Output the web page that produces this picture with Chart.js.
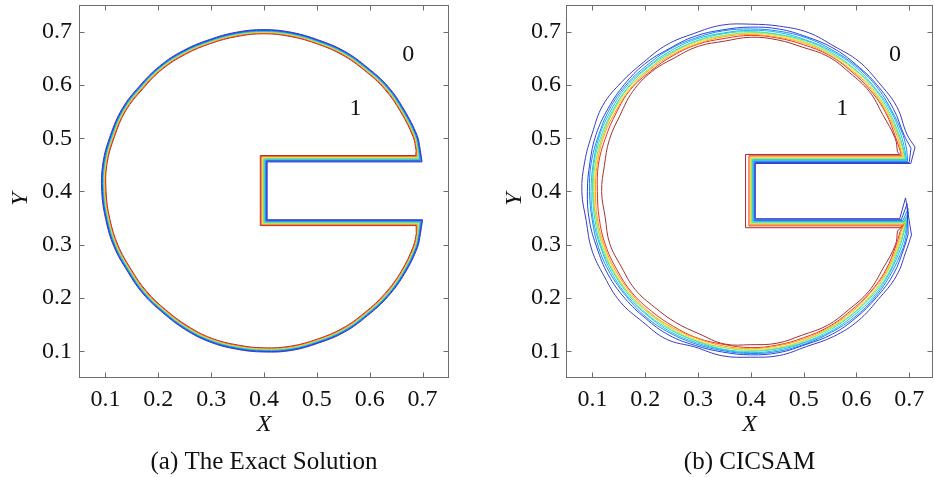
<!DOCTYPE html>
<html>
<head>
<meta charset="utf-8">
<script src="https://cdn.jsdelivr.net/npm/chart.js@4"></script>
<style>
  html, body { margin: 0; padding: 0; background: #ffffff; }
  #wrap { position: relative; width: 934px; height: 477px; overflow: hidden; }
  #wrap canvas { position: absolute; top: 0; }
</style>
</head>
<body>
<div id="wrap">
  <canvas id="exact" width="467" height="477" style="left:0px"></canvas>
  <canvas id="cicsam" width="467" height="477" style="left:467px"></canvas>
</div>
<script>
// ---- axis ticks -------------------------------------------------------
const tickValues = [0.1, 0.2, 0.3, 0.4, 0.5, 0.6, 0.7];
const tickLabels = ['0.1', '0.2', '0.3', '0.4', '0.5', '0.6', '0.7'];

// ---- volume-fraction contour levels (outer = 0.05 ... inner = 0.95) ----
const contourLevels = [0.05, 0.15, 0.25, 0.35, 0.45, 0.55, 0.65, 0.75, 0.85, 0.95];

// ---- slotted disk: contour radius about the disk centre, per polar angle (deg)
const diskCenter = { x: 0.4, y: 0.4 };
const arcAngles = [15, 20, 30, 40, 50, 60, 70, 80, 90, 100, 110, 120, 130, 140, 150, 160, 170, 180,
                   190, 200, 210, 220, 230, 240, 250, 260, 270, 280, 290, 300, 310, 320, 330, 340, 345];

// (a) exact solution
const exactR0 = [0.3060,0.3083,0.3064,0.3065,0.3041,0.3042,0.3025,0.3033,0.3038,0.3035,0.3033,0.3055,0.3073,0.3077,0.3101,0.3092,0.3094,0.3070,0.3040,0.3022,0.2986,0.2988,0.2974,0.2990,0.3005,0.3005,0.3012,0.3028,0.3026,0.3047,0.3044,0.3065,0.3075,0.3088,0.3065];
const exactR1 = [0.3050,0.3073,0.3054,0.3055,0.3031,0.3034,0.3015,0.3023,0.3028,0.3025,0.3023,0.3045,0.3063,0.3067,0.3091,0.3082,0.3084,0.3060,0.3030,0.3012,0.2979,0.2978,0.2964,0.2980,0.2995,0.2995,0.3002,0.3018,0.3016,0.3037,0.3036,0.3055,0.3065,0.3078,0.3055];
const exactR2 = [0.3042,0.3065,0.3046,0.3047,0.3023,0.3024,0.3007,0.3015,0.3020,0.3017,0.3015,0.3037,0.3055,0.3059,0.3083,0.3074,0.3076,0.3052,0.3022,0.3004,0.2968,0.2970,0.2956,0.2972,0.2987,0.2987,0.2994,0.3010,0.3008,0.3029,0.3026,0.3047,0.3057,0.3070,0.3047];
const exactR3 = [0.3034,0.3057,0.3038,0.3039,0.3015,0.3016,0.2999,0.3007,0.3012,0.3009,0.3007,0.3029,0.3047,0.3051,0.3075,0.3066,0.3068,0.3044,0.3014,0.2996,0.2960,0.2962,0.2948,0.2964,0.2979,0.2979,0.2986,0.3002,0.3000,0.3021,0.3018,0.3039,0.3049,0.3062,0.3039];
const exactR4 = [0.3026,0.3049,0.3030,0.3031,0.3007,0.3008,0.2991,0.2999,0.3004,0.3001,0.2999,0.3021,0.3039,0.3043,0.3067,0.3058,0.3060,0.3036,0.3006,0.2988,0.2952,0.2954,0.2940,0.2956,0.2971,0.2971,0.2978,0.2994,0.2992,0.3013,0.3010,0.3031,0.3041,0.3054,0.3031];
const exactR5 = [0.3018,0.3041,0.3022,0.3023,0.2999,0.3000,0.2983,0.2991,0.2996,0.2993,0.2991,0.3013,0.3031,0.3035,0.3059,0.3050,0.3052,0.3028,0.2998,0.2980,0.2944,0.2946,0.2932,0.2948,0.2963,0.2963,0.2970,0.2986,0.2984,0.3005,0.3002,0.3023,0.3033,0.3046,0.3023];
const exactR6 = [0.3010,0.3033,0.3014,0.3015,0.2991,0.2992,0.2975,0.2983,0.2988,0.2985,0.2983,0.3005,0.3023,0.3027,0.3051,0.3042,0.3044,0.3020,0.2990,0.2972,0.2936,0.2938,0.2924,0.2940,0.2955,0.2955,0.2962,0.2978,0.2976,0.2997,0.2994,0.3015,0.3025,0.3038,0.3015];
const exactR7 = [0.3002,0.3025,0.3006,0.3007,0.2983,0.2984,0.2967,0.2975,0.2980,0.2977,0.2975,0.2997,0.3015,0.3019,0.3043,0.3034,0.3036,0.3012,0.2982,0.2964,0.2928,0.2930,0.2916,0.2932,0.2947,0.2947,0.2954,0.2970,0.2968,0.2989,0.2986,0.3007,0.3017,0.3030,0.3007];
const exactR8 = [0.2992,0.3015,0.2996,0.2997,0.2973,0.2974,0.2957,0.2965,0.2970,0.2967,0.2965,0.2987,0.3005,0.3009,0.3033,0.3024,0.3026,0.3002,0.2972,0.2954,0.2918,0.2920,0.2906,0.2922,0.2937,0.2937,0.2944,0.2960,0.2958,0.2979,0.2976,0.2997,0.3007,0.3020,0.2997];
const exactR9 = [0.2980,0.3001,0.2986,0.2983,0.2963,0.2960,0.2947,0.2951,0.2960,0.2953,0.2955,0.2973,0.2995,0.2995,0.3023,0.3010,0.3016,0.2988,0.2962,0.2940,0.2908,0.2906,0.2896,0.2908,0.2927,0.2923,0.2934,0.2946,0.2948,0.2965,0.2966,0.2983,0.2997,0.3006,0.2987];
// slot edges per level
const exactSlotTop         = [0.4555,0.4568,0.4581,0.4594,0.4607,0.4620,0.4633,0.4646,0.4660,0.4675];
const exactSlotBottom      = [0.3470,0.3458,0.3446,0.3434,0.3422,0.3410,0.3398,0.3386,0.3374,0.3360];
const exactSlotLeft        = [0.4060,0.4046,0.4032,0.4018,0.4004,0.3990,0.3976,0.3962,0.3946,0.3930];
const exactSlotRightTop    = [0.699,0.698,0.696,0.695,0.694,0.693,0.692,0.690,0.689,0.687];
const exactSlotRightBottom = [0.700,0.699,0.697,0.696,0.695,0.694,0.692,0.691,0.690,0.688];

// (b) CICSAM
const cicsamR0 = [0.3220,0.3145,0.3190,0.3170,0.3185,0.3150,0.3175,0.3150,0.3140,0.3170,0.3155,0.3180,0.3165,0.3195,0.3235,0.3195,0.3195,0.3200,0.3165,0.3205,0.3200,0.3225,0.3190,0.3200,0.3105,0.3130,0.3110,0.3125,0.3095,0.3140,0.3165,0.3150,0.3180,0.3145,0.3150];
const cicsamR1 = [0.3140,0.3090,0.3115,0.3115,0.3105,0.3110,0.3090,0.3095,0.3085,0.3080,0.3100,0.3095,0.3125,0.3125,0.3120,0.3120,0.3095,0.3095,0.3105,0.3100,0.3120,0.3115,0.3105,0.3110,0.3075,0.3060,0.3065,0.3070,0.3055,0.3090,0.3095,0.3100,0.3115,0.3090,0.3085];
const cicsamR2 = [0.3055,0.3070,0.3070,0.3090,0.3085,0.3070,0.3070,0.3055,0.3050,0.3060,0.3065,0.3080,0.3080,0.3095,0.3090,0.3070,0.3070,0.3055,0.3050,0.3070,0.3075,0.3070,0.3080,0.3065,0.3045,0.3035,0.3040,0.3045,0.3040,0.3050,0.3070,0.3075,0.3070,0.3070,0.3055];
const cicsamR3 = [0.3020,0.3035,0.3050,0.3050,0.3060,0.3045,0.3030,0.3030,0.3025,0.3020,0.3040,0.3045,0.3050,0.3070,0.3055,0.3050,0.3030,0.3025,0.3030,0.3030,0.3045,0.3050,0.3040,0.3040,0.3020,0.3015,0.3025,0.3020,0.3015,0.3030,0.3035,0.3050,0.3040,0.3035,0.3030];
const cicsamR4 = [0.3000,0.3005,0.3020,0.3035,0.3025,0.3020,0.3015,0.2995,0.3000,0.3005,0.3010,0.3015,0.3035,0.3040,0.3025,0.3020,0.3015,0.2995,0.3000,0.3015,0.3015,0.3020,0.3025,0.3010,0.2995,0.3005,0.3000,0.2995,0.3005,0.3000,0.3005,0.3020,0.3025,0.3005,0.3000];
const cicsamR5 = [0.2985,0.2990,0.2995,0.3010,0.3015,0.2995,0.2990,0.2985,0.2980,0.2975,0.2995,0.3000,0.3005,0.3025,0.3010,0.2995,0.2990,0.2985,0.2975,0.2990,0.3005,0.3000,0.2995,0.2990,0.2985,0.2975,0.2980,0.2985,0.2980,0.2975,0.2995,0.3000,0.2995,0.2990,0.2985];
const cicsamR6 = [0.2965,0.2980,0.2985,0.2990,0.2995,0.2990,0.2970,0.2965,0.2970,0.2965,0.2970,0.2990,0.2995,0.3000,0.3000,0.2985,0.2970,0.2965,0.2970,0.2970,0.2985,0.2990,0.2985,0.2970,0.2965,0.2970,0.2960,0.2965,0.2970,0.2965,0.2970,0.2990,0.2985,0.2970,0.2965];
const cicsamR7 = [0.2940,0.2960,0.2965,0.2980,0.2970,0.2965,0.2960,0.2940,0.2945,0.2950,0.2950,0.2965,0.2980,0.2985,0.2970,0.2970,0.2955,0.2940,0.2950,0.2955,0.2960,0.2965,0.2970,0.2955,0.2940,0.2945,0.2950,0.2940,0.2945,0.2950,0.2955,0.2960,0.2970,0.2955,0.2940];
const cicsamR8 = [0.2930,0.2925,0.2950,0.2955,0.2950,0.2955,0.2930,0.2925,0.2930,0.2915,0.2940,0.2945,0.2950,0.2975,0.2945,0.2930,0.2930,0.2905,0.2915,0.2930,0.2930,0.2945,0.2930,0.2925,0.2930,0.2915,0.2930,0.2925,0.2920,0.2935,0.2930,0.2945,0.2950,0.2930,0.2925];
const cicsamR9 = [0.2875,0.2910,0.2885,0.2925,0.2910,0.2925,0.2880,0.2890,0.2895,0.2865,0.2900,0.2895,0.2930,0.2920,0.2860,0.2850,0.2815,0.2825,0.2800,0.2845,0.2830,0.2860,0.2835,0.2840,0.2845,0.2905,0.2875,0.2890,0.2865,0.2900,0.2890,0.2915,0.2890,0.2915,0.2875];
const cicsamSlotTop         = [0.4525,0.4545,0.4565,0.4585,0.4600,0.4615,0.4630,0.4650,0.4670,0.4695];
const cicsamSlotBottom      = [0.3490,0.3470,0.3455,0.3440,0.3425,0.3410,0.3395,0.3380,0.3355,0.3320];
const cicsamSlotLeft        = [0.4085,0.4075,0.4060,0.4045,0.4030,0.4015,0.4000,0.3985,0.3965,0.3900];
const cicsamSlotRightTop    = [0.703,0.700,0.697,0.695,0.693,0.691,0.689,0.687,0.685,0.682];
const cicsamSlotRightBottom = [0.682,0.685,0.688,0.690,0.690,0.690,0.689,0.688,0.686,0.683];
// smeared tip at the lower mouth of the slot
const cicsamMouthTipX = [0.693,0.696,0.698,0.699,0.698,0.697,0.696,0.694,0.692,0.688];
const cicsamMouthTipY = [0.388,0.377,0.368,0.362,0.357,0.353,0.350,0.346,0.342,0.336];

// ---- styling ------------------------------------------------------------
const levelColors = ['#3b3bc4', '#2346e8', '#1e86f2', '#17bde8', '#36dcc0',
                     '#9ae05a', '#f2df2a', '#ff9a1c', '#ee2e1e', '#a62f2f'];
const serif = '"Liberation Serif", "Times New Roman", serif';
const frameColor = '#6e6e6e';

// outer circular part of one contour
function arcPath(radii) {
  return arcAngles.map((deg, i) => {
    const t = deg * Math.PI / 180;
    return { x: diskCenter.x + radii[i] * Math.cos(t), y: diskCenter.y + radii[i] * Math.sin(t) };
  });
}

// straight slot part, joining the two ends of the arc
function slotPath(arc, top, bottom, left, rightTop, rightBottom, tip) {
  const pts = [arc[arc.length - 1]];
  if (tip) pts.push(tip);
  pts.push({ x: rightBottom, y: bottom }, { x: left, y: bottom }, { x: left, y: top },
           { x: rightTop, y: top }, arc[0]);
  return pts;
}

function buildDatasets(radiiSets, top, bottom, left, rightTop, rightBottom, tipX, tipY) {
  const sets = [];
  contourLevels.forEach((lvl, k) => {
    const arc = arcPath(radiiSets[k]);
    const base = { showLine: true, borderColor: levelColors[k], borderWidth: 1,
                   pointRadius: 0, fill: false, order: k };
    sets.push(Object.assign({ label: 'phi = ' + lvl, data: arc, tension: 0.4 }, base));
    sets.push(Object.assign({
      label: 'phi = ' + lvl + ' (slot)',
      data: slotPath(arc, top[k], bottom[k], left[k], rightTop[k], rightBottom[k],
                     tipX ? { x: tipX[k], y: tipY[k] } : null),
      tension: 0 }, base));
  });
  return sets;
}

// box frame with inward tick marks on all four sides
const framePlugin = {
  id: 'frame',
  afterDatasetsDraw(chart) {
    const { ctx, chartArea: a, scales: { x, y } } = chart;
    const L = Math.round(a.left) + 0.5, R = Math.round(a.right) - 0.5;
    const T = Math.round(a.top) + 0.5, B = Math.round(a.bottom) - 0.5;
    ctx.save();
    ctx.strokeStyle = frameColor;
    ctx.lineWidth = 1;
    ctx.strokeRect(L, T, R - L, B - T);
    ctx.beginPath();
    x.ticks.forEach(t => {
      const px = Math.round(x.getPixelForValue(t.value)) + 0.5;
      ctx.moveTo(px, B); ctx.lineTo(px, B - 5);
      ctx.moveTo(px, T); ctx.lineTo(px, T + 5);
    });
    y.ticks.forEach(t => {
      const py = Math.round(y.getPixelForValue(t.value)) + 0.5;
      ctx.moveTo(L, py); ctx.lineTo(L + 5, py);
      ctx.moveTo(R, py); ctx.lineTo(R - 5, py);
    });
    ctx.stroke();
    ctx.restore();
  }
};

// axis titles, caption and the phase labels 0 / 1
const textPlugin = {
  id: 'panelText',
  afterDraw(chart, args, opts) {
    const { ctx, chartArea: a, scales: { x, y } } = chart;
    const cx = (a.left + a.right) / 2;
    ctx.save();
    ctx.fillStyle = '#111111';
    ctx.textAlign = 'center';
    ctx.textBaseline = 'alphabetic';
    ctx.font = 'italic 24px ' + serif;
    ctx.fillText('X', cx, 431);
    ctx.save();
    ctx.translate(opts.yTitleX, 199);
    ctx.rotate(-Math.PI / 2);
    ctx.fillText('Y', 0, 0);
    ctx.restore();
    ctx.font = '25px ' + serif;
    ctx.fillText(opts.caption, cx, 469);
    ctx.font = '24px ' + serif;
    opts.phaseLabels.forEach(p => {
      ctx.fillText(p.text, x.getPixelForValue(p.x), y.getPixelForValue(p.y));
    });
    ctx.restore();
  }
};

function makePanel(id, datasets, cfg) {
  const tickFont = { family: serif, size: 24 };
  return new Chart(document.getElementById(id), {
    type: 'scatter',
    data: { datasets },
    options: {
      responsive: false,
      animation: false,
      devicePixelRatio: 1,
      layout: { padding: { top: 5, right: cfg.padRight, left: 0, bottom: 0 } },
      plugins: {
        legend: { display: false },
        tooltip: { enabled: false },
        panelText: { caption: cfg.caption, yTitleX: cfg.yTitleX,
                     phaseLabels: [{ text: '0', x: 0.673, y: 0.644 }, { text: '1', x: 0.573, y: 0.5436 }] }
      },
      scales: {
        x: {
          type: 'linear', min: cfg.xMin, max: cfg.xMax,
          afterBuildTicks: s => { s.ticks = tickValues.map(v => ({ value: v })); },
          afterFit: s => { s.height = 99; s.paddingLeft = 0; s.paddingRight = 0; },
          ticks: { callback: (v, i) => tickLabels[i], font: tickFont, color: '#111111',
                   padding: 7, maxRotation: 0, autoSkip: false },
          grid: { display: false, drawTicks: false }, border: { display: false }
        },
        y: {
          type: 'linear', min: 0.05, max: 0.75,
          afterBuildTicks: s => { s.ticks = tickValues.map(v => ({ value: v })); },
          afterFit: s => { s.width = cfg.yAxisWidth; s.paddingTop = 0; s.paddingBottom = 0; },
          ticks: { callback: (v, i) => tickLabels[i], font: tickFont, color: '#111111',
                   padding: cfg.yPad, autoSkip: false },
          grid: { display: false, drawTicks: false }, border: { display: false }
        }
      }
    },
    plugins: [framePlugin, textPlugin]
  });
}

makePanel('exact',
  buildDatasets([exactR0, exactR1, exactR2, exactR3, exactR4, exactR5, exactR6, exactR7, exactR8, exactR9],
                exactSlotTop, exactSlotBottom, exactSlotLeft, exactSlotRightTop, exactSlotRightBottom),
  { caption: '(a) The Exact Solution', xMin: 0.05, xMax: 0.75, yAxisWidth: 79, padRight: 18, yPad: 7, yTitleX: 27 });

makePanel('cicsam',
  buildDatasets([cicsamR0, cicsamR1, cicsamR2, cicsamR3, cicsamR4, cicsamR5, cicsamR6, cicsamR7, cicsamR8, cicsamR9],
                cicsamSlotTop, cicsamSlotBottom, cicsamSlotLeft, cicsamSlotRightTop, cicsamSlotRightBottom,
                cicsamMouthTipX, cicsamMouthTipY),
  { caption: '(b) CICSAM', xMin: 0.05, xMax: 0.745, yAxisWidth: 99, padRight: 1, yPad: 5, yTitleX: 54 });
</script>
</body>
</html>
